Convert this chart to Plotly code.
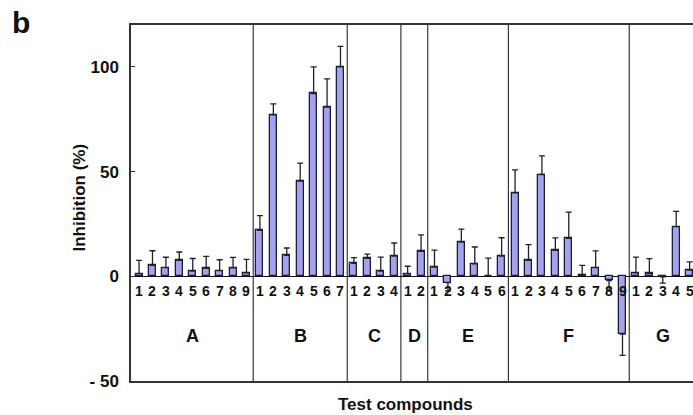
import plotly.graph_objects as go

group_names = ["A", "B", "C", "D", "E", "F", "G"]
group_sizes = [9, 7, 4, 2, 6, 9, 5]

compound_labels = [
    "1", "2", "3", "4", "5", "6", "7", "8", "9",
    "1", "2", "3", "4", "5", "6", "7",
    "1", "2", "3", "4",
    "1", "2",
    "1", "2", "3", "4", "5", "6",
    "1", "2", "3", "4", "5", "6", "7", "8", "9",
    "1", "2", "3", "4", "5",
]

inhibition = [
    1.3, 5.2, 4.1, 7.6, 2.5, 3.8, 2.7, 4.0, 1.7,
    21.9, 77.1, 10.0, 45.4, 87.3, 80.8, 100.0,
    6.2, 8.6, 2.5, 9.7,
    1.3, 11.9,
    4.4, -3.0, 16.3, 5.9, 0.3, 9.7,
    39.8, 7.6, 48.6, 12.4, 18.1, 0.5, 4.1, -2.0, -27.6,
    1.6, 1.4, -0.3, 23.7, 2.9,
]

errors = [
    6.3, 7.0, 5.0, 4.0, 6.0, 5.7, 5.2, 5.0, 6.4,
    7.1, 5.2, 3.5, 8.6, 12.7, 13.5, 9.8,
    2.7, 2.0, 6.7, 6.2,
    3.5, 7.9,
    8.1, 4.0, 6.2, 8.1, 8.4, 8.7,
    11.0, 7.5, 8.9, 5.9, 12.5, 4.7, 8.0, 5.0, 10.2,
    7.6, 7.0, 3.0, 7.3, 4.0,
]

y_ticks = [-50, 0, 50, 100]
y_tick_labels = ["- 50", "0", "50", "100"]

x = list(range(len(inhibition)))
err_plus = [e if v >= 0 else 0 for v, e in zip(inhibition, errors)]
err_minus = [0 if v >= 0 else e for v, e in zip(inhibition, errors)]

fig = go.Figure()
fig.add_trace(go.Bar(
    x=x, y=inhibition, width=0.52,
    marker=dict(color="#a2a2f0", line=dict(color="#1c1c3c", width=1.3)),
    error_y=dict(type="data", symmetric=False, array=err_plus, arrayminus=err_minus,
                 color="#222222", thickness=1.3, width=3),
    showlegend=False,
))

bold = "Liberation Sans, Arial, sans-serif"
annotations = []
for xi, lab in zip(x, compound_labels):
    annotations.append(dict(x=xi, y=-6.8, xref="x", yref="y", text=lab, showarrow=False,
                            font=dict(family=bold, size=14, color="#111", weight="bold")))

shapes = []
start = 0
for name, n in zip(group_names, group_sizes):
    center = start + (n - 1) / 2
    annotations.append(dict(x=center, y=-28.6, xref="x", yref="y", text=name, showarrow=False,
                            font=dict(family=bold, size=18, color="#111", weight="bold")))
    end = start + n
    if end < len(x):
        shapes.append(dict(type="line", xref="x", yref="paper", x0=end - 0.5, x1=end - 0.5,
                           y0=0, y1=1, line=dict(color="#111", width=1)))
    start = end

L, T, B = 131, 25, 381
PW, PH = 693 - L, B - T
annotations.append(dict(xref="paper", yref="paper", x=(405 - L) / PW, y=-(404 - B) / PH,
                        text="Test compounds", showarrow=False, yanchor="middle",
                        font=dict(family=bold, size=17, color="#111", weight="bold")))
annotations.append(dict(xref="paper", yref="paper", x=(67 - L) / PW, y=(B - 198) / PH,
                        text="Inhibition (%)", showarrow=False, textangle=-90,
                        font=dict(family=bold, size=17, color="#111", weight="bold")))
annotations.append(dict(xref="paper", yref="paper", x=(10 - L) / PW, y=(B - 22) / PH,
                        text="b", showarrow=False, xanchor="left", yanchor="middle",
                        font=dict(family=bold, size=30, color="#111", weight="bold")))

fig.update_layout(
    width=693, height=415,
    margin=dict(l=L, r=0, t=T, b=415 - B, autoexpand=False),
    plot_bgcolor="white", paper_bgcolor="white",
    xaxis=dict(range=[-0.6, 41.25], showticklabels=False, ticks="", showgrid=False,
               zeroline=False, showline=True, mirror=True, linecolor="#333", linewidth=1.5),
    yaxis=dict(range=[-50, 120], tickvals=y_ticks, ticktext=y_tick_labels, ticks="inside",
               ticklen=4, tickcolor="#333", showgrid=False, zeroline=True,
               zerolinecolor="#111", zerolinewidth=1, showline=True, linecolor="#333",
               linewidth=1.5, ticklabelstandoff=7,
               tickfont=dict(family=bold, size=17, color="#111", weight="bold")),
    annotations=annotations, shapes=shapes, bargap=0,
)

fig.write_html("out.html", config={"displayModeBar": False},
               post_script="document.body.style.margin='0';")
